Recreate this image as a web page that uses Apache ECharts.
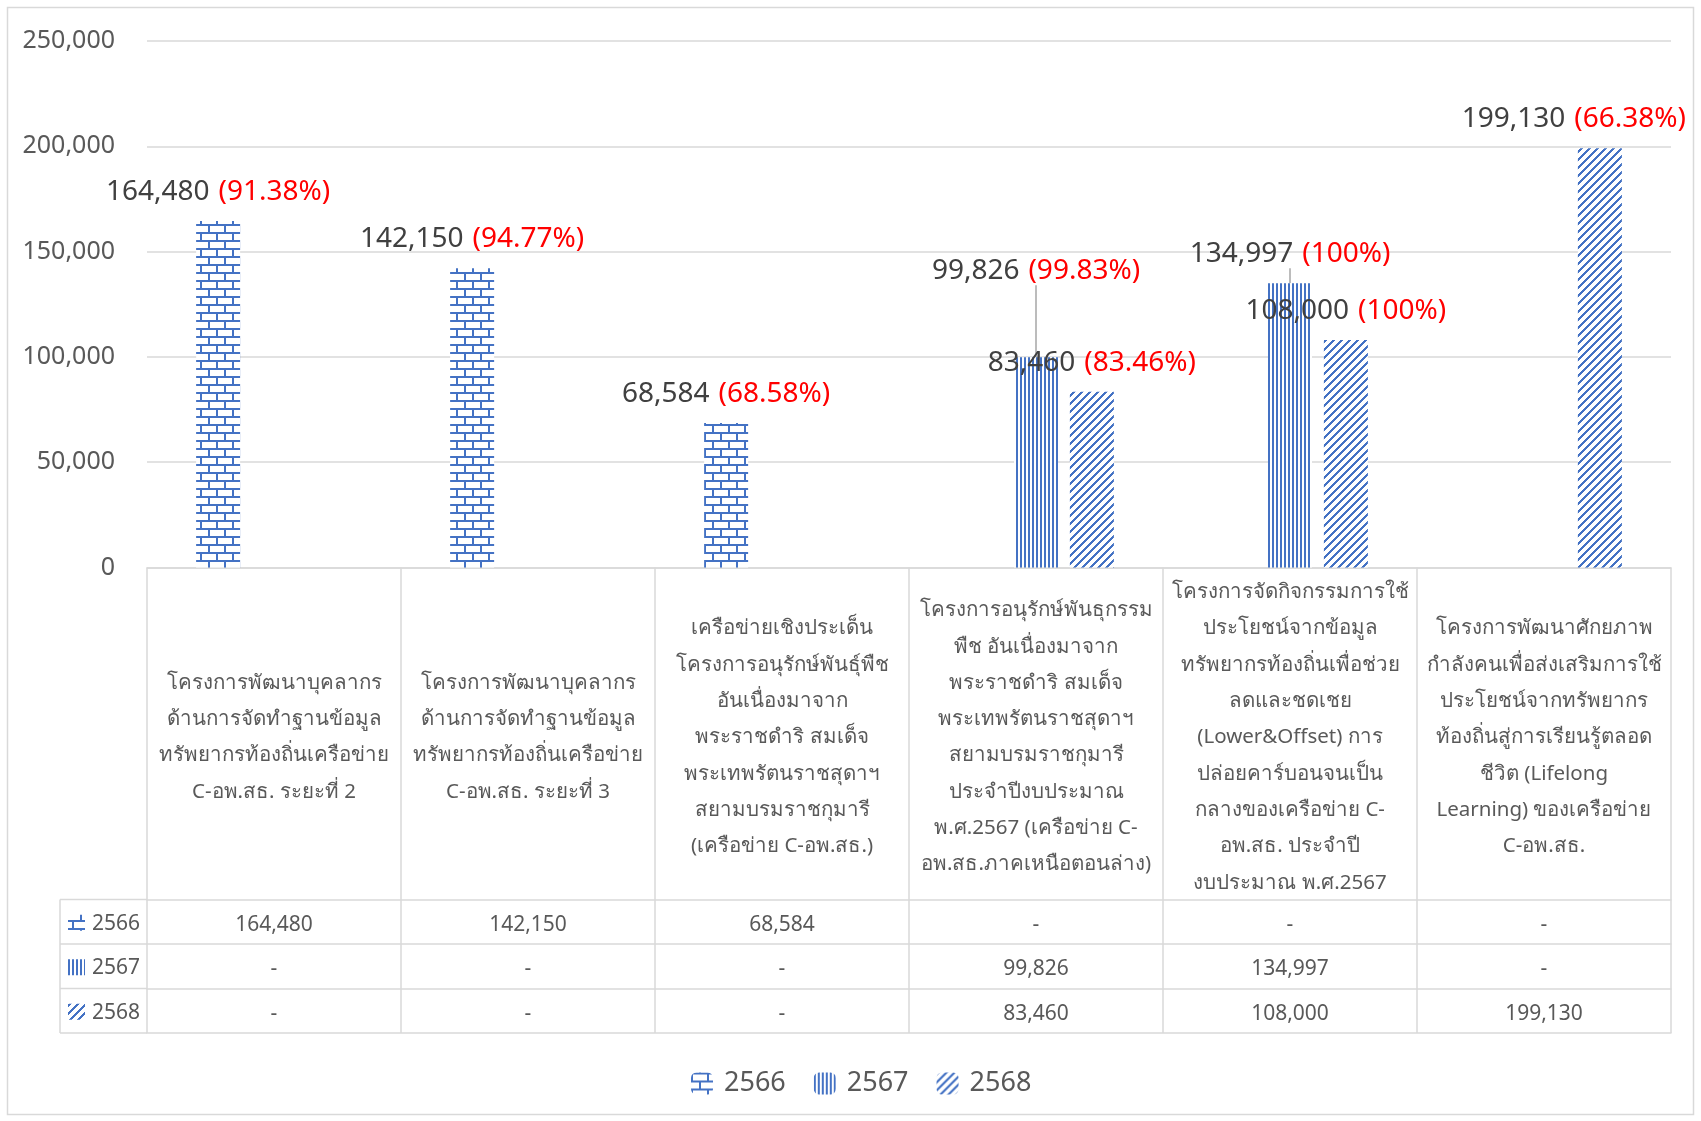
<!DOCTYPE html>
<html>
<head>
<meta charset="utf-8">
<script src="https://cdn.jsdelivr.net/npm/echarts@6/dist/echarts.min.js"></script>
<style>
html,body{margin:0;padding:0;background:#fff;}
#chart{width:1701px;height:1121px;}
</style>
</head>
<body>
<div id="chart"></div>
<script>
// ---- data ----
const categories = [
  "โครงการพัฒนาบุคลากร\nด้านการจัดทำฐานข้อมูล\nทรัพยากรท้องถิ่นเครือข่าย\nC-อพ.สธ. ระยะที่ 2",
  "โครงการพัฒนาบุคลากร\nด้านการจัดทำฐานข้อมูล\nทรัพยากรท้องถิ่นเครือข่าย\nC-อพ.สธ. ระยะที่ 3",
  "เครือข่ายเชิงประเด็น\nโครงการอนุรักษ์พันธุ์พืช\nอันเนื่องมาจาก\nพระราชดำริ สมเด็จ\nพระเทพรัตนราชสุดาฯ\nสยามบรมราชกุมารี\n(เครือข่าย C-อพ.สธ.)",
  "โครงการอนุรักษ์พันธุกรรม\nพืช อันเนื่องมาจาก\nพระราชดำริ สมเด็จ\nพระเทพรัตนราชสุดาฯ\nสยามบรมราชกุมารี\nประจำปีงบประมาณ\nพ.ศ.2567 (เครือข่าย C-\nอพ.สธ.ภาคเหนือตอนล่าง)",
  "โครงการจัดกิจกรรมการใช้\nประโยชน์จากข้อมูล\nทรัพยากรท้องถิ่นเพื่อช่วย\nลดและชดเชย\n(Lower&Offset) การ\nปล่อยคาร์บอนจนเป็น\nกลางของเครือข่าย C-\nอพ.สธ. ประจำปี\nงบประมาณ พ.ศ.2567",
  "โครงการพัฒนาศักยภาพ\nกำลังคนเพื่อส่งเสริมการใช้\nประโยชน์จากทรัพยากร\nท้องถิ่นสู่การเรียนรู้ตลอด\nชีวิต (Lifelong\nLearning) ของเครือข่าย\nC-อพ.สธ."
];
const seriesNames = ["2566", "2567", "2568"];
const values2566 = [164480, 142150, 68584, null, null, null];
const values2567 = [null, null, null, 99826, 134997, null];
const values2568 = [null, null, null, 83460, 108000, 199130];
const pct2566 = ["91.38%", "94.77%", "68.58%", null, null, null];
const pct2567 = [null, null, null, "99.83%", "100%", null];
const pct2568 = [null, null, null, "83.46%", "100%", "66.38%"];
const yTicks = [0, 50000, 100000, 150000, 200000, 250000];

// ---- styles / layout ----
const BLUE = '#4472C4';
const GRID_LINE = '#d9d9d9';
const TXT = '#595959';
const FONT = '"Noto Sans", "Open Sans", sans-serif';
const W = 1701, H = 1121;
const gLeft = 147, gRight = 30, gTop = 41, gBottomY = 567.5;
const catBoxH = 332, rowH = 44.5;
const tableLeft = 60;

function mkCanvas(w, h, draw) {
  const c = document.createElement('canvas');
  c.width = w; c.height = h;
  const ctx = c.getContext('2d');
  ctx.fillStyle = '#fff'; ctx.fillRect(0, 0, w, h);
  ctx.fillStyle = BLUE;
  draw(ctx);
  return c;
}
const brickCanvas = mkCanvas(16, 16, ctx => {
  ctx.fillRect(0, 0, 16, 2);
  ctx.fillRect(0, 8, 16, 2);
  ctx.fillRect(0, 0, 2, 8);
  ctx.fillRect(8, 8, 2, 8);
});
const vertCanvas = mkCanvas(4, 4, ctx => { ctx.fillRect(0, 0, 2, 4); });
const diagCanvas = mkCanvas(8, 8, ctx => {
  for (let x = 0; x < 8; x++) for (let y = 0; y < 8; y++) {
    if (((x + y) % 8) < 3) ctx.fillRect(x, y, 1, 1);
  }
});
const patterns = [brickCanvas, vertCanvas, diagCanvas].map(c => ({ image: c, repeat: 'repeat' }));

const fmt = v => (v == null ? '-' : v.toLocaleString('en-US'));
const allValues = [values2566, values2567, values2568];
const allPct = [pct2566, pct2567, pct2568];

function makeSeries(k) {
  const s = {
    name: seriesNames[k],
    type: 'bar',
    data: allValues[k],
    barWidth: 44,
    barGap: '27%',
    itemStyle: { color: patterns[k] },
    label: {
      show: true,
      position: 'top',
      distance: 15,
      formatter: p => p.value == null ? '' : '{v|' + fmt(p.value) + '}{p|(' + allPct[k][p.dataIndex] + ')}',
      rich: {
        v: { fontSize: 28, color: '#404040', fontFamily: FONT },
        p: { fontSize: 28, color: '#FF0000', fontFamily: FONT, padding: [0, 0, 0, 9] }
      }
    },
    emphasis: { disabled: true }
  };
  if (k === 1) {
    s.labelLayout = p => p.dataIndex === 3 ? { dy: -57 } : {};
    s.labelLine = { show: true, lineStyle: { color: '#a6a6a6', width: 1.5 } };
  }
  if (k === 2) {
    s.labelLayout = p => p.dataIndex === 5 ? { dx: -26 } : {};
  }
  return s;
}

// table rows as extra x axes
const xAxes = [{
  type: 'category',
  data: categories,
  position: 'bottom',
  axisLine: { show: true, onZero: false, lineStyle: { color: GRID_LINE, width: 1.5 } },
  axisTick: { show: true, length: catBoxH + 3 * rowH, alignWithLabel: false, lineStyle: { color: GRID_LINE, width: 1.5 } },
  axisLabel: {
    interval: 0, margin: catBoxH / 2 + 4, verticalAlign: 'middle', align: 'center',
    fontSize: 20.5, lineHeight: 36.3, color: TXT, fontFamily: FONT
  }
}];
for (let r = 0; r <= 3; r++) {
  xAxes.push({
    type: 'category',
    data: categories,
    position: 'bottom',
    offset: catBoxH + r * rowH,
    axisLine: { show: true, onZero: false, lineStyle: { color: GRID_LINE, width: 1.5 } },
    axisTick: { show: false },
    axisLabel: {
      show: r < 3, interval: 0, margin: rowH / 2 + 3, verticalAlign: 'middle', align: 'center',
      fontSize: 21, color: TXT, fontFamily: FONT,
      formatter: (v, i) => r < 3 ? fmt(allValues[r][i]) : ''
    }
  });
}

// left legend column of the table
const graphics = [
  { type: 'rect', shape: { x: 7.5, y: 7.5, width: W - 15, height: H - 14 }, style: { fill: null, stroke: GRID_LINE, lineWidth: 1.5 }, silent: true },
  { type: 'line', shape: { x1: tableLeft, y1: gBottomY + catBoxH, x2: tableLeft, y2: gBottomY + catBoxH + 3 * rowH }, style: { stroke: GRID_LINE, lineWidth: 1.5 }, silent: true }
];
for (let r = 0; r <= 3; r++) {
  const y = gBottomY + catBoxH + r * rowH;
  graphics.push({ type: 'line', shape: { x1: tableLeft, y1: y, x2: gLeft, y2: y }, style: { stroke: GRID_LINE, lineWidth: 1.5 }, silent: true });
}
for (let r = 0; r < 3; r++) {
  const yc = gBottomY + catBoxH + r * rowH + rowH / 2 + 1;
  graphics.push({ type: 'rect', shape: { x: 68, y: yc - 8, width: 17, height: 16 }, style: { fill: patterns[r] }, silent: true });
  graphics.push({ type: 'text', x: 92, y: yc + 1, style: { text: seriesNames[r], fontSize: 21, fill: TXT, fontFamily: FONT, verticalAlign: 'middle', align: 'left' }, silent: true });
}

const chart = echarts.init(document.getElementById('chart'), null, { renderer: 'canvas' });
chart.setOption({
  animation: false,
  backgroundColor: '#fff',
  textStyle: { fontFamily: FONT },
  grid: { left: gLeft, right: gRight, top: gTop, bottom: H - gBottomY },
  legend: {
    data: seriesNames,
    bottom: H - 1086 - 16,
    left: 686,
    itemWidth: 22, itemHeight: 22, itemGap: 28,
    textStyle: { fontSize: 27, color: TXT, fontFamily: FONT, padding: [0, 0, 0, 6] },
    selectedMode: false
  },
  xAxis: xAxes,
  yAxis: {
    type: 'value',
    min: yTicks[0], max: yTicks[yTicks.length - 1], interval: yTicks[1] - yTicks[0],
    axisLine: { show: false }, axisTick: { show: false },
    splitLine: { lineStyle: { color: GRID_LINE, width: 1.5 } },
    axisLabel: { fontSize: 25, color: TXT, margin: 32, fontFamily: FONT, padding: [6, 0, 0, 0], formatter: v => fmt(v) }
  },
  series: [0, 1, 2].map(makeSeries),
  graphic: graphics
});
</script>
</body>
</html>
